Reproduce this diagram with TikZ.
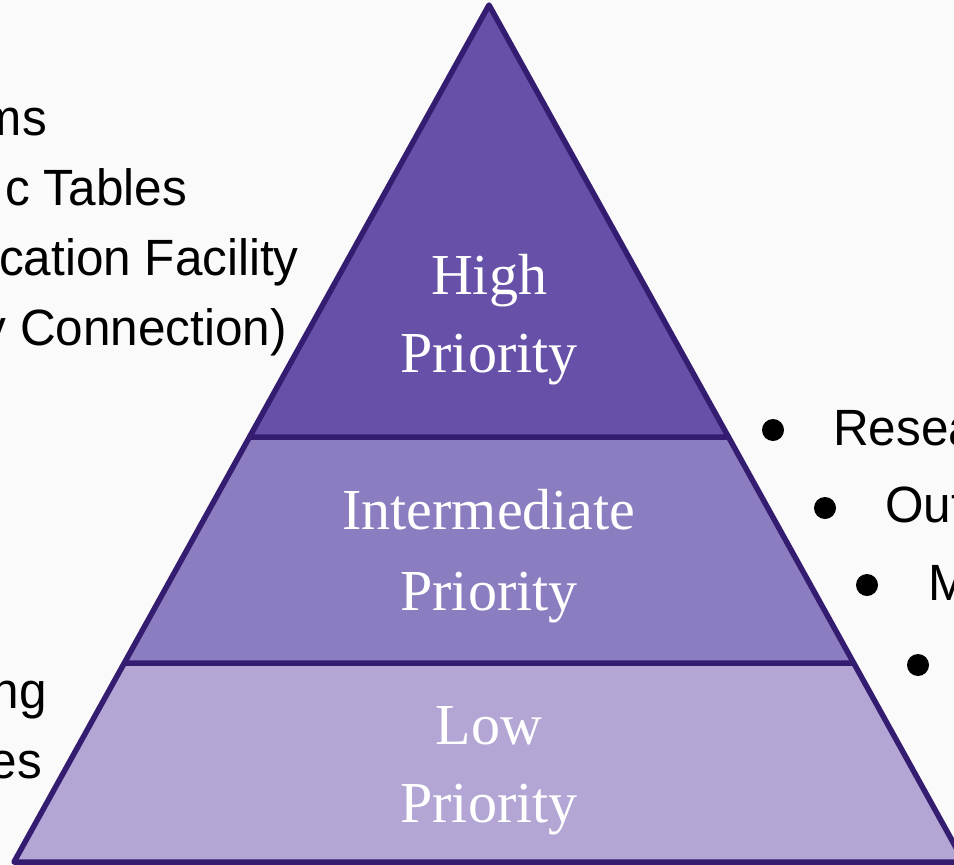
\documentclass[tikz,border=0pt]{standalone}
\usepackage{fontspec}
\setmainfont{Liberation Serif}
\newfontfamily\sidefont[FakeStretch=0.97]{Liberation Sans}
\definecolor{bgc}{HTML}{FAFAFA}
\definecolor{topc}{HTML}{6750A8}
\definecolor{midc}{HTML}{8B7DC0}
\definecolor{lowc}{HTML}{B3A6D5}
\definecolor{edgec}{HTML}{341D70}
\tikzset{
  layer/.style={draw=edgec, line width=5.5pt, line join=round},
  pyrtext/.style={anchor=base, text=white, font=\fontsize{58}{58}\selectfont, inner sep=0pt},
  sidetext/.style={anchor=base east, text=black, font=\sidefont\fontsize{51}{51}\selectfont, inner sep=0pt},
  sidetextr/.style={anchor=base west, text=black, font=\sidefont\fontsize{51}{51}\selectfont, inner sep=0pt},
  dotb/.style={circle, fill=black, minimum size=22pt, inner sep=0pt}
}
\begin{document}
\begin{tikzpicture}[x=1pt, y=-1pt]
\fill[bgc] (0,0) rectangle (954,865);
\useasboundingbox (0,0) rectangle (954,865);
\begin{scope}
\clip (0,0) rectangle (954,865);
% layers
\filldraw[layer, fill=lowc] (124.3,663) -- (853.7,663) -- (964,862) -- (14,862) -- cycle;
\filldraw[layer, fill=midc] (249.5,437) -- (728.5,437) -- (853.7,663) -- (124.3,663) -- cycle;
\filldraw[layer, fill=topc] (489,5) -- (728.5,437) -- (249.5,437) -- cycle;
% pyramid labels
\node[pyrtext] (h1) at (489,294) {High};
\node[pyrtext] (h2) at (489,372) {Priority};
\node[pyrtext] (m1) at (489,529) {Intermediate};
\node[pyrtext] (m2) at (489,610) {Priority};
\node[pyrtext] (l1) at (489,744) {Low};
\node[pyrtext] (l2) at (489,822) {Priority};
% left text
\node[sidetext] (t1) at (47,135) {ms};
\node[sidetext] (t2) at (187,205) {c Tables};
\node[sidetext] (t3) at (299,275) {cation Facility};
\node[sidetext] (t4) at (287,345) {y Connection)};
\node[sidetext] (t5) at (47,708) {ng};
\node[sidetext] (t6) at (42,778) {es};
% right bullets
\node[dotb] (b1) at (773,430) {};
\node[dotb] (b2) at (825,508) {};
\node[dotb] (b3) at (867,585) {};
\node[dotb] (b4) at (918,665) {};
\node[sidetextr] (r1) at (833,445) {Research};
\node[sidetextr] (r2) at (885,522) {Outreach};
\node[sidetextr] (r3) at (928,600) {Media};
\end{scope}
\end{tikzpicture}
\end{document}
